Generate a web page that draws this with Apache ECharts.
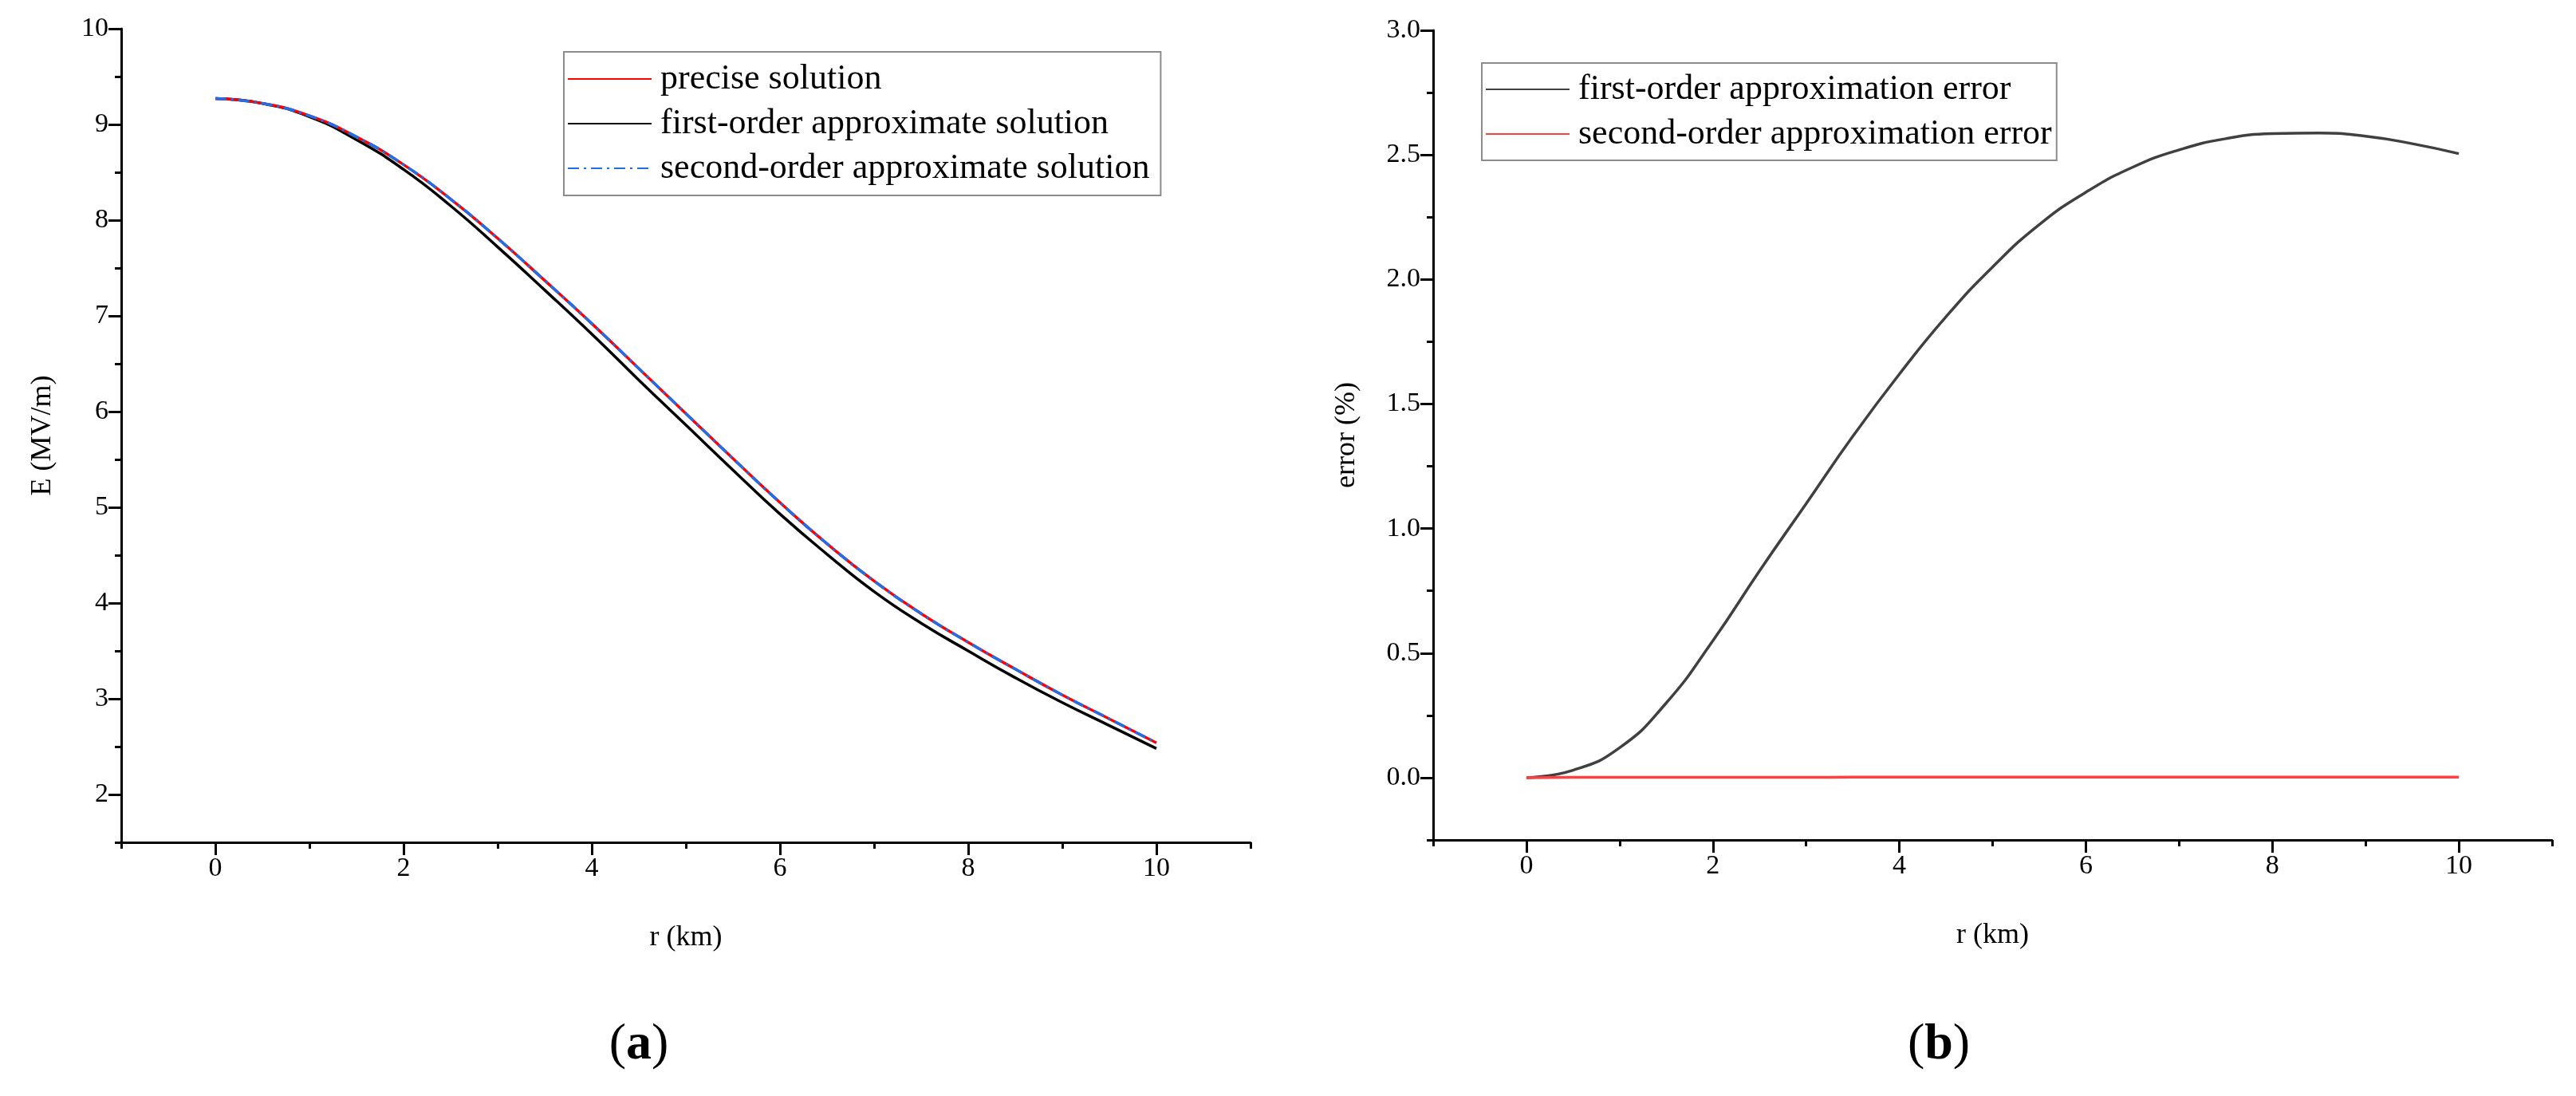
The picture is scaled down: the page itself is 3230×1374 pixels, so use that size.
<!DOCTYPE html>
<html><head><meta charset="utf-8">
<script src="https://cdn.jsdelivr.net/npm/echarts@6/dist/echarts.min.js"></script>
<style>html,body{margin:0;padding:0;background:#fff}#c{width:3230px;height:1374px}</style>
</head><body><div id="c"></div>
<script>
const r = [0,0.5,1,1.5,2,2.5,3,3.5,4,4.5,5,5.5,6,6.5,7,7.5,8,8.5,9,9.5,10];
const precise = [9.27,9.22,9.09,8.87,8.58,8.22,7.81,7.37,6.92,6.45,5.98,5.51,5.05,4.62,4.23,3.89,3.59,3.31,3.04,2.79,2.54];
const firstOrder = [9.27,9.22,9.08,8.84,8.53,8.15,7.72,7.27,6.81,6.33,5.86,5.39,4.93,4.51,4.12,3.79,3.50,3.22,2.96,2.72,2.48];
const secondOrder = [9.27,9.22,9.09,8.87,8.58,8.22,7.81,7.37,6.92,6.45,5.98,5.51,5.05,4.62,4.23,3.89,3.59,3.31,3.04,2.79,2.54];
const err1 = [0,0.03,0.12,0.30,0.55,0.83,1.10,1.37,1.62,1.85,2.05,2.22,2.35,2.45,2.52,2.565,2.585,2.588,2.575,2.545,2.505];
const err2 = [0,0.001,0.001,0.001,0.001,0.001,0.001,0.002,0.002,0.002,0.002,0.002,0.002,0.002,0.002,0.002,0.002,0.002,0.002,0.002,0.002];
const xLabels = [0,2,4,6,8,10];
const xMinor = [-1,1,3,5,7,9,11];
const yLabelsA = [2,3,4,5,6,7,8,9,10];
const yMinorA = [1.5,2.5,3.5,4.5,5.5,6.5,7.5,8.5,9.5];
const yLabelsB = [0,0.5,1,1.5,2,2.5,3];
const yMinorB = [-0.25,0.25,0.75,1.25,1.75,2.25,2.75];

const FF = 'Liberation Serif';
const pair = a => r.map((x,i)=>[x,a[i]]);
const axLine = {show:true, onZero:false, lineStyle:{color:'#000', width:3}};
function mainAxis(g, min, max, labels, fmt, extra){
  return Object.assign({type:'value', gridIndex:g, min, max, splitLine:{show:false},
    axisLine:axLine,
    axisTick:{show:true, customValues:labels, length:16, lineStyle:{color:'#000', width:3}},
    axisLabel:{customValues:labels, formatter:fmt, color:'#000', fontFamily:FF, fontSize:34, margin:16}}, extra);
}
function minorAxis(g, min, max, vals, pos){
  return {type:'value', gridIndex:g, min, max, position:pos, splitLine:{show:false},
    axisLine:{show:false, onZero:false}, axisLabel:{show:false},
    axisTick:{show:true, customValues:vals, length:8, lineStyle:{color:'#000', width:3}}};
}
const nameStyle = {color:'#000', fontFamily:FF, fontSize:36};
const intFmt = v => String(Math.round(v));
const decFmt = v => v.toFixed(1);
const legendBase = {orient:'vertical', borderColor:'#8c8c8c', borderWidth:2, itemWidth:105, itemHeight:14, itemGap:12,
  itemStyle:{opacity:0},
  textStyle:{fontFamily:FF, fontSize:44, lineHeight:44, color:'#000', padding:[0,0,0,6]}, backgroundColor:'#fff'};

const option = {
  animation:false,
  grid:[{left:152, top:36, width:1416, height:1020}, {left:1797, top:38, width:1403, height:1015}],
  xAxis:[
    mainAxis(0,-1,11,xLabels,intFmt,{name:'r (km)', nameLocation:'middle', nameGap:102, nameTextStyle:nameStyle}),
    minorAxis(0,-1,11,xMinor,'bottom'),
    mainAxis(1,-1,11,xLabels,intFmt,{name:'r (km)', nameLocation:'middle', nameGap:102, nameTextStyle:nameStyle}),
    minorAxis(1,-1,11,xMinor,'bottom')
  ],
  yAxis:[
    mainAxis(0,1.5,10,yLabelsA,intFmt,{name:'E (MV/m)', nameLocation:'middle', nameGap:80, nameTextStyle:nameStyle}),
    minorAxis(0,1.5,10,yMinorA,'left'),
    mainAxis(1,-0.25,3,yLabelsB,decFmt,{name:'error (%)', nameLocation:'middle', nameGap:90, nameTextStyle:nameStyle}),
    minorAxis(1,-0.25,3,yMinorB,'left')
  ],
  legend:[
    Object.assign({}, legendBase, {left:707, top:65, padding:[12,14,12,4], data:['precise solution','first-order approximate solution','second-order approximate solution']}),
    Object.assign({}, legendBase, {left:1858, top:79, padding:[11,6,11,4], data:['first-order approximation error','second-order approximation error']})
  ],
  series:[
    {name:'first-order approximate solution', type:'line', xAxisIndex:0, yAxisIndex:0, data:pair(firstOrder), smooth:0.5, symbol:'none', lineStyle:{color:'#000', width:3.5}, itemStyle:{color:'#000'}, z:2},
    {name:'precise solution', type:'line', xAxisIndex:0, yAxisIndex:0, data:pair(precise), smooth:0.5, symbol:'none', lineStyle:{color:'#ff0000', width:3.5}, itemStyle:{color:'#ff0000'}, z:3},
    {name:'second-order approximate solution', type:'line', xAxisIndex:0, yAxisIndex:0, data:pair(secondOrder), smooth:0.5, symbol:'none', lineStyle:{color:'#1f6fe8', width:3.5, type:[14,6,3,6]}, itemStyle:{color:'#1f6fe8'}, z:4},
    {name:'first-order approximation error', type:'line', xAxisIndex:2, yAxisIndex:2, data:pair(err1), smooth:0.5, symbol:'none', lineStyle:{color:'#404040', width:3.5}, itemStyle:{color:'#404040'}},
    {name:'second-order approximation error', type:'line', xAxisIndex:2, yAxisIndex:2, data:pair(err2), smooth:0.5, symbol:'none', lineStyle:{color:'#ff4040', width:3.5}, itemStyle:{color:'#ff4040'}}
  ],
  graphic:[
    {type:'text', x:801, y:1310, style:{text:'({a|a})', font:'64px "Liberation Serif"', fill:'#000', align:'center', verticalAlign:'middle', rich:{a:{fontWeight:'bold', fontSize:64, fontFamily:FF}}}},
    {type:'text', x:2431, y:1310, style:{text:'({a|b})', font:'64px "Liberation Serif"', fill:'#000', align:'center', verticalAlign:'middle', rich:{a:{fontWeight:'bold', fontSize:64, fontFamily:FF}}}}
  ]
};
echarts.init(document.getElementById('c')).setOption(option);
</script></body></html>
